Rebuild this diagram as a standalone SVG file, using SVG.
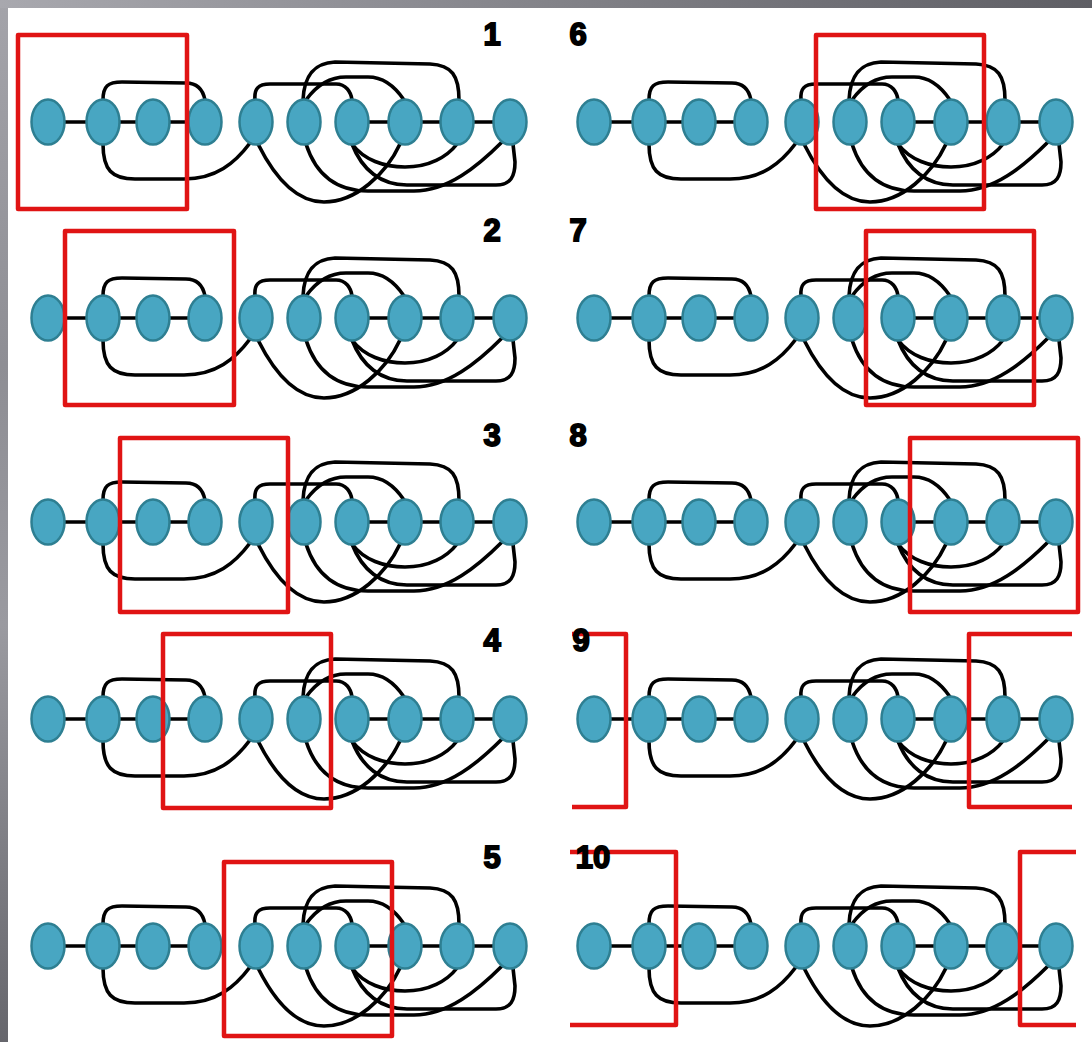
<svg xmlns="http://www.w3.org/2000/svg" width="1092" height="1042" viewBox="0 0 1092 1042">
<defs>
<linearGradient id="frameV" x1="0" y1="0" x2="0" y2="1">
<stop offset="0" stop-color="#a4a4aa"/>
<stop offset="0.35" stop-color="#8e8e94"/>
<stop offset="0.6" stop-color="#9a9aa0"/>
<stop offset="1" stop-color="#66666c"/>
</linearGradient>
<linearGradient id="frameH" x1="0" y1="0" x2="1" y2="0">
<stop offset="0" stop-color="#a8a8ae"/>
<stop offset="1" stop-color="#5e5e64"/>
</linearGradient>
<style>
.node ellipse{fill:#48a6c2;stroke:#2e7f92;stroke-width:2.5}
.edge{fill:none;stroke:#000;stroke-width:3.6;stroke-linecap:round;stroke-linejoin:round}
.win{fill:none;stroke:#e01414;stroke-width:4.5;stroke-linejoin:round}
.lbl{font-family:"Liberation Sans",Arial,sans-serif;font-weight:bold;font-size:31px;fill:#000;stroke:#000;stroke-width:1.8;text-anchor:middle}
</style>
</defs>
<rect x="0" y="0" width="1092" height="1042" fill="url(#frameV)"/>
<rect x="0" y="0" width="1092" height="8" fill="url(#frameH)"/>
<rect x="8" y="8" width="1084" height="1034" fill="#fff"/>

<g id="panel1">
<g transform="translate(0,0)">
<g id="p1-connectors">
<path class="edge" d="M48,122H103M103,122H153M153,122H205M352,122H405M405,122H457M457,122H510"/>
<path class="edge" d="M103,100C103,86 108,82 122,82L186,83C197,83 203,90 205,100"/>
<path class="edge" d="M255,100C254,89 258,84 270,84L336,84C346,84 351,92 352,100"/>
<path class="edge" d="M303,100C304,78 312,63 335,62L430,64C452,65 459,76 459,100"/>
<path class="edge" d="M306,100C316,86 330,77 346,77L368,77C384,77 396,88 404,100"/>
<path class="edge" d="M103,144C103,170 112,179 135,179L184,179C216,179 235,163 250,143"/>
<path class="edge" d="M258,144C276,180 298,202 324,202C356,202 386,174 400,144"/>
<path class="edge" d="M306,144C316,175 337,191 368,191L414,191C448,191 478,166 502,142"/>
<path class="edge" d="M352,144C362,170 381,185 407,185L496,185C511,185 515,176 515,162L513,144"/>
<path class="edge" d="M352,144C364,160 384,167 405,167C429,167 447,157 457,144"/>
</g>
<g id="p1-n1" class="node"><ellipse cx="48" cy="122" rx="16.5" ry="22.5"/></g>
<g id="p1-n2" class="node"><ellipse cx="103" cy="122" rx="16.5" ry="22.5"/></g>
<g id="p1-n3" class="node"><ellipse cx="153" cy="122" rx="16.5" ry="22.5"/></g>
<g id="p1-n4" class="node"><ellipse cx="205" cy="122" rx="16.5" ry="22.5"/></g>
<g id="p1-n5" class="node"><ellipse cx="256" cy="122" rx="16.5" ry="22.5"/></g>
<g id="p1-n6" class="node"><ellipse cx="304" cy="122" rx="16.5" ry="22.5"/></g>
<g id="p1-n7" class="node"><ellipse cx="352" cy="122" rx="16.5" ry="22.5"/></g>
<g id="p1-n8" class="node"><ellipse cx="405" cy="122" rx="16.5" ry="22.5"/></g>
<g id="p1-n9" class="node"><ellipse cx="457" cy="122" rx="16.5" ry="22.5"/></g>
<g id="p1-n10" class="node"><ellipse cx="510" cy="122" rx="16.5" ry="22.5"/></g>
</g>
<rect class="win" x="18" y="35" width="169" height="174"/>
<text class="lbl" x="492" y="45">1</text>
</g>

<g id="panel2">
<g transform="translate(0,196)">
<g id="p2-connectors">
<path class="edge" d="M48,122H103M103,122H153M153,122H205M352,122H405M405,122H457M457,122H510"/>
<path class="edge" d="M103,100C103,86 108,82 122,82L186,83C197,83 203,90 205,100"/>
<path class="edge" d="M255,100C254,89 258,84 270,84L336,84C346,84 351,92 352,100"/>
<path class="edge" d="M303,100C304,78 312,63 335,62L430,64C452,65 459,76 459,100"/>
<path class="edge" d="M306,100C316,86 330,77 346,77L368,77C384,77 396,88 404,100"/>
<path class="edge" d="M103,144C103,170 112,179 135,179L184,179C216,179 235,163 250,143"/>
<path class="edge" d="M258,144C276,180 298,202 324,202C356,202 386,174 400,144"/>
<path class="edge" d="M306,144C316,175 337,191 368,191L414,191C448,191 478,166 502,142"/>
<path class="edge" d="M352,144C362,170 381,185 407,185L496,185C511,185 515,176 515,162L513,144"/>
<path class="edge" d="M352,144C364,160 384,167 405,167C429,167 447,157 457,144"/>
</g>
<g id="p2-n1" class="node"><ellipse cx="48" cy="122" rx="16.5" ry="22.5"/></g>
<g id="p2-n2" class="node"><ellipse cx="103" cy="122" rx="16.5" ry="22.5"/></g>
<g id="p2-n3" class="node"><ellipse cx="153" cy="122" rx="16.5" ry="22.5"/></g>
<g id="p2-n4" class="node"><ellipse cx="205" cy="122" rx="16.5" ry="22.5"/></g>
<g id="p2-n5" class="node"><ellipse cx="256" cy="122" rx="16.5" ry="22.5"/></g>
<g id="p2-n6" class="node"><ellipse cx="304" cy="122" rx="16.5" ry="22.5"/></g>
<g id="p2-n7" class="node"><ellipse cx="352" cy="122" rx="16.5" ry="22.5"/></g>
<g id="p2-n8" class="node"><ellipse cx="405" cy="122" rx="16.5" ry="22.5"/></g>
<g id="p2-n9" class="node"><ellipse cx="457" cy="122" rx="16.5" ry="22.5"/></g>
<g id="p2-n10" class="node"><ellipse cx="510" cy="122" rx="16.5" ry="22.5"/></g>
</g>
<rect class="win" x="65" y="231" width="169" height="174"/>
<text class="lbl" x="492" y="241">2</text>
</g>

<g id="panel3">
<g transform="translate(0,400)">
<g id="p3-connectors">
<path class="edge" d="M48,122H103M103,122H153M153,122H205M352,122H405M405,122H457M457,122H510"/>
<path class="edge" d="M103,100C103,86 108,82 122,82L186,83C197,83 203,90 205,100"/>
<path class="edge" d="M255,100C254,89 258,84 270,84L336,84C346,84 351,92 352,100"/>
<path class="edge" d="M303,100C304,78 312,63 335,62L430,64C452,65 459,76 459,100"/>
<path class="edge" d="M306,100C316,86 330,77 346,77L368,77C384,77 396,88 404,100"/>
<path class="edge" d="M103,144C103,170 112,179 135,179L184,179C216,179 235,163 250,143"/>
<path class="edge" d="M258,144C276,180 298,202 324,202C356,202 386,174 400,144"/>
<path class="edge" d="M306,144C316,175 337,191 368,191L414,191C448,191 478,166 502,142"/>
<path class="edge" d="M352,144C362,170 381,185 407,185L496,185C511,185 515,176 515,162L513,144"/>
<path class="edge" d="M352,144C364,160 384,167 405,167C429,167 447,157 457,144"/>
</g>
<g id="p3-n1" class="node"><ellipse cx="48" cy="122" rx="16.5" ry="22.5"/></g>
<g id="p3-n2" class="node"><ellipse cx="103" cy="122" rx="16.5" ry="22.5"/></g>
<g id="p3-n3" class="node"><ellipse cx="153" cy="122" rx="16.5" ry="22.5"/></g>
<g id="p3-n4" class="node"><ellipse cx="205" cy="122" rx="16.5" ry="22.5"/></g>
<g id="p3-n5" class="node"><ellipse cx="256" cy="122" rx="16.5" ry="22.5"/></g>
<g id="p3-n6" class="node"><ellipse cx="304" cy="122" rx="16.5" ry="22.5"/></g>
<g id="p3-n7" class="node"><ellipse cx="352" cy="122" rx="16.5" ry="22.5"/></g>
<g id="p3-n8" class="node"><ellipse cx="405" cy="122" rx="16.5" ry="22.5"/></g>
<g id="p3-n9" class="node"><ellipse cx="457" cy="122" rx="16.5" ry="22.5"/></g>
<g id="p3-n10" class="node"><ellipse cx="510" cy="122" rx="16.5" ry="22.5"/></g>
</g>
<rect class="win" x="120" y="438" width="168" height="174"/>
<text class="lbl" x="492" y="446">3</text>
</g>

<g id="panel4">
<g transform="translate(0,597)">
<g id="p4-connectors">
<path class="edge" d="M48,122H103M103,122H153M153,122H205M352,122H405M405,122H457M457,122H510"/>
<path class="edge" d="M103,100C103,86 108,82 122,82L186,83C197,83 203,90 205,100"/>
<path class="edge" d="M255,100C254,89 258,84 270,84L336,84C346,84 351,92 352,100"/>
<path class="edge" d="M303,100C304,78 312,63 335,62L430,64C452,65 459,76 459,100"/>
<path class="edge" d="M306,100C316,86 330,77 346,77L368,77C384,77 396,88 404,100"/>
<path class="edge" d="M103,144C103,170 112,179 135,179L184,179C216,179 235,163 250,143"/>
<path class="edge" d="M258,144C276,180 298,202 324,202C356,202 386,174 400,144"/>
<path class="edge" d="M306,144C316,175 337,191 368,191L414,191C448,191 478,166 502,142"/>
<path class="edge" d="M352,144C362,170 381,185 407,185L496,185C511,185 515,176 515,162L513,144"/>
<path class="edge" d="M352,144C364,160 384,167 405,167C429,167 447,157 457,144"/>
</g>
<g id="p4-n1" class="node"><ellipse cx="48" cy="122" rx="16.5" ry="22.5"/></g>
<g id="p4-n2" class="node"><ellipse cx="103" cy="122" rx="16.5" ry="22.5"/></g>
<g id="p4-n3" class="node"><ellipse cx="153" cy="122" rx="16.5" ry="22.5"/></g>
<g id="p4-n4" class="node"><ellipse cx="205" cy="122" rx="16.5" ry="22.5"/></g>
<g id="p4-n5" class="node"><ellipse cx="256" cy="122" rx="16.5" ry="22.5"/></g>
<g id="p4-n6" class="node"><ellipse cx="304" cy="122" rx="16.5" ry="22.5"/></g>
<g id="p4-n7" class="node"><ellipse cx="352" cy="122" rx="16.5" ry="22.5"/></g>
<g id="p4-n8" class="node"><ellipse cx="405" cy="122" rx="16.5" ry="22.5"/></g>
<g id="p4-n9" class="node"><ellipse cx="457" cy="122" rx="16.5" ry="22.5"/></g>
<g id="p4-n10" class="node"><ellipse cx="510" cy="122" rx="16.5" ry="22.5"/></g>
</g>
<rect class="win" x="163" y="634" width="168" height="174"/>
<text class="lbl" x="492" y="651">4</text>
</g>

<g id="panel5">
<g transform="translate(0,824)">
<g id="p5-connectors">
<path class="edge" d="M48,122H103M103,122H153M153,122H205M352,122H405M405,122H457M457,122H510"/>
<path class="edge" d="M103,100C103,86 108,82 122,82L186,83C197,83 203,90 205,100"/>
<path class="edge" d="M255,100C254,89 258,84 270,84L336,84C346,84 351,92 352,100"/>
<path class="edge" d="M303,100C304,78 312,63 335,62L430,64C452,65 459,76 459,100"/>
<path class="edge" d="M306,100C316,86 330,77 346,77L368,77C384,77 396,88 404,100"/>
<path class="edge" d="M103,144C103,170 112,179 135,179L184,179C216,179 235,163 250,143"/>
<path class="edge" d="M258,144C276,180 298,202 324,202C356,202 386,174 400,144"/>
<path class="edge" d="M306,144C316,175 337,191 368,191L414,191C448,191 478,166 502,142"/>
<path class="edge" d="M352,144C362,170 381,185 407,185L496,185C511,185 515,176 515,162L513,144"/>
<path class="edge" d="M352,144C364,160 384,167 405,167C429,167 447,157 457,144"/>
</g>
<g id="p5-n1" class="node"><ellipse cx="48" cy="122" rx="16.5" ry="22.5"/></g>
<g id="p5-n2" class="node"><ellipse cx="103" cy="122" rx="16.5" ry="22.5"/></g>
<g id="p5-n3" class="node"><ellipse cx="153" cy="122" rx="16.5" ry="22.5"/></g>
<g id="p5-n4" class="node"><ellipse cx="205" cy="122" rx="16.5" ry="22.5"/></g>
<g id="p5-n5" class="node"><ellipse cx="256" cy="122" rx="16.5" ry="22.5"/></g>
<g id="p5-n6" class="node"><ellipse cx="304" cy="122" rx="16.5" ry="22.5"/></g>
<g id="p5-n7" class="node"><ellipse cx="352" cy="122" rx="16.5" ry="22.5"/></g>
<g id="p5-n8" class="node"><ellipse cx="405" cy="122" rx="16.5" ry="22.5"/></g>
<g id="p5-n9" class="node"><ellipse cx="457" cy="122" rx="16.5" ry="22.5"/></g>
<g id="p5-n10" class="node"><ellipse cx="510" cy="122" rx="16.5" ry="22.5"/></g>
</g>
<rect class="win" x="224" y="862" width="168" height="174"/>
<text class="lbl" x="492" y="868">5</text>
</g>

<g id="panel6">
<g transform="translate(546,0)">
<g id="p6-connectors">
<path class="edge" d="M48,122H103M103,122H153M153,122H205M352,122H405M405,122H457M457,122H510"/>
<path class="edge" d="M103,100C103,86 108,82 122,82L186,83C197,83 203,90 205,100"/>
<path class="edge" d="M255,100C254,89 258,84 270,84L336,84C346,84 351,92 352,100"/>
<path class="edge" d="M303,100C304,78 312,63 335,62L430,64C452,65 459,76 459,100"/>
<path class="edge" d="M306,100C316,86 330,77 346,77L368,77C384,77 396,88 404,100"/>
<path class="edge" d="M103,144C103,170 112,179 135,179L184,179C216,179 235,163 250,143"/>
<path class="edge" d="M258,144C276,180 298,202 324,202C356,202 386,174 400,144"/>
<path class="edge" d="M306,144C316,175 337,191 368,191L414,191C448,191 478,166 502,142"/>
<path class="edge" d="M352,144C362,170 381,185 407,185L496,185C511,185 515,176 515,162L513,144"/>
<path class="edge" d="M352,144C364,160 384,167 405,167C429,167 447,157 457,144"/>
</g>
<g id="p6-n1" class="node"><ellipse cx="48" cy="122" rx="16.5" ry="22.5"/></g>
<g id="p6-n2" class="node"><ellipse cx="103" cy="122" rx="16.5" ry="22.5"/></g>
<g id="p6-n3" class="node"><ellipse cx="153" cy="122" rx="16.5" ry="22.5"/></g>
<g id="p6-n4" class="node"><ellipse cx="205" cy="122" rx="16.5" ry="22.5"/></g>
<g id="p6-n5" class="node"><ellipse cx="256" cy="122" rx="16.5" ry="22.5"/></g>
<g id="p6-n6" class="node"><ellipse cx="304" cy="122" rx="16.5" ry="22.5"/></g>
<g id="p6-n7" class="node"><ellipse cx="352" cy="122" rx="16.5" ry="22.5"/></g>
<g id="p6-n8" class="node"><ellipse cx="405" cy="122" rx="16.5" ry="22.5"/></g>
<g id="p6-n9" class="node"><ellipse cx="457" cy="122" rx="16.5" ry="22.5"/></g>
<g id="p6-n10" class="node"><ellipse cx="510" cy="122" rx="16.5" ry="22.5"/></g>
</g>
<rect class="win" x="816" y="35" width="168" height="174"/>
<text class="lbl" x="578" y="45">6</text>
</g>

<g id="panel7">
<g transform="translate(546,196)">
<g id="p7-connectors">
<path class="edge" d="M48,122H103M103,122H153M153,122H205M352,122H405M405,122H457M457,122H510"/>
<path class="edge" d="M103,100C103,86 108,82 122,82L186,83C197,83 203,90 205,100"/>
<path class="edge" d="M255,100C254,89 258,84 270,84L336,84C346,84 351,92 352,100"/>
<path class="edge" d="M303,100C304,78 312,63 335,62L430,64C452,65 459,76 459,100"/>
<path class="edge" d="M306,100C316,86 330,77 346,77L368,77C384,77 396,88 404,100"/>
<path class="edge" d="M103,144C103,170 112,179 135,179L184,179C216,179 235,163 250,143"/>
<path class="edge" d="M258,144C276,180 298,202 324,202C356,202 386,174 400,144"/>
<path class="edge" d="M306,144C316,175 337,191 368,191L414,191C448,191 478,166 502,142"/>
<path class="edge" d="M352,144C362,170 381,185 407,185L496,185C511,185 515,176 515,162L513,144"/>
<path class="edge" d="M352,144C364,160 384,167 405,167C429,167 447,157 457,144"/>
</g>
<g id="p7-n1" class="node"><ellipse cx="48" cy="122" rx="16.5" ry="22.5"/></g>
<g id="p7-n2" class="node"><ellipse cx="103" cy="122" rx="16.5" ry="22.5"/></g>
<g id="p7-n3" class="node"><ellipse cx="153" cy="122" rx="16.5" ry="22.5"/></g>
<g id="p7-n4" class="node"><ellipse cx="205" cy="122" rx="16.5" ry="22.5"/></g>
<g id="p7-n5" class="node"><ellipse cx="256" cy="122" rx="16.5" ry="22.5"/></g>
<g id="p7-n6" class="node"><ellipse cx="304" cy="122" rx="16.5" ry="22.5"/></g>
<g id="p7-n7" class="node"><ellipse cx="352" cy="122" rx="16.5" ry="22.5"/></g>
<g id="p7-n8" class="node"><ellipse cx="405" cy="122" rx="16.5" ry="22.5"/></g>
<g id="p7-n9" class="node"><ellipse cx="457" cy="122" rx="16.5" ry="22.5"/></g>
<g id="p7-n10" class="node"><ellipse cx="510" cy="122" rx="16.5" ry="22.5"/></g>
</g>
<rect class="win" x="866" y="231" width="168" height="174"/>
<text class="lbl" x="578" y="241">7</text>
</g>

<g id="panel8">
<g transform="translate(546,400)">
<g id="p8-connectors">
<path class="edge" d="M48,122H103M103,122H153M153,122H205M352,122H405M405,122H457M457,122H510"/>
<path class="edge" d="M103,100C103,86 108,82 122,82L186,83C197,83 203,90 205,100"/>
<path class="edge" d="M255,100C254,89 258,84 270,84L336,84C346,84 351,92 352,100"/>
<path class="edge" d="M303,100C304,78 312,63 335,62L430,64C452,65 459,76 459,100"/>
<path class="edge" d="M306,100C316,86 330,77 346,77L368,77C384,77 396,88 404,100"/>
<path class="edge" d="M103,144C103,170 112,179 135,179L184,179C216,179 235,163 250,143"/>
<path class="edge" d="M258,144C276,180 298,202 324,202C356,202 386,174 400,144"/>
<path class="edge" d="M306,144C316,175 337,191 368,191L414,191C448,191 478,166 502,142"/>
<path class="edge" d="M352,144C362,170 381,185 407,185L496,185C511,185 515,176 515,162L513,144"/>
<path class="edge" d="M352,144C364,160 384,167 405,167C429,167 447,157 457,144"/>
</g>
<g id="p8-n1" class="node"><ellipse cx="48" cy="122" rx="16.5" ry="22.5"/></g>
<g id="p8-n2" class="node"><ellipse cx="103" cy="122" rx="16.5" ry="22.5"/></g>
<g id="p8-n3" class="node"><ellipse cx="153" cy="122" rx="16.5" ry="22.5"/></g>
<g id="p8-n4" class="node"><ellipse cx="205" cy="122" rx="16.5" ry="22.5"/></g>
<g id="p8-n5" class="node"><ellipse cx="256" cy="122" rx="16.5" ry="22.5"/></g>
<g id="p8-n6" class="node"><ellipse cx="304" cy="122" rx="16.5" ry="22.5"/></g>
<g id="p8-n7" class="node"><ellipse cx="352" cy="122" rx="16.5" ry="22.5"/></g>
<g id="p8-n8" class="node"><ellipse cx="405" cy="122" rx="16.5" ry="22.5"/></g>
<g id="p8-n9" class="node"><ellipse cx="457" cy="122" rx="16.5" ry="22.5"/></g>
<g id="p8-n10" class="node"><ellipse cx="510" cy="122" rx="16.5" ry="22.5"/></g>
</g>
<rect class="win" x="910" y="438" width="168" height="174"/>
<text class="lbl" x="578" y="446">8</text>
</g>

<g id="panel9">
<g transform="translate(546,597)">
<g id="p9-connectors">
<path class="edge" d="M48,122H103M103,122H153M153,122H205M352,122H405M405,122H457M457,122H510"/>
<path class="edge" d="M103,100C103,86 108,82 122,82L186,83C197,83 203,90 205,100"/>
<path class="edge" d="M255,100C254,89 258,84 270,84L336,84C346,84 351,92 352,100"/>
<path class="edge" d="M303,100C304,78 312,63 335,62L430,64C452,65 459,76 459,100"/>
<path class="edge" d="M306,100C316,86 330,77 346,77L368,77C384,77 396,88 404,100"/>
<path class="edge" d="M103,144C103,170 112,179 135,179L184,179C216,179 235,163 250,143"/>
<path class="edge" d="M258,144C276,180 298,202 324,202C356,202 386,174 400,144"/>
<path class="edge" d="M306,144C316,175 337,191 368,191L414,191C448,191 478,166 502,142"/>
<path class="edge" d="M352,144C362,170 381,185 407,185L496,185C511,185 515,176 515,162L513,144"/>
<path class="edge" d="M352,144C364,160 384,167 405,167C429,167 447,157 457,144"/>
</g>
<g id="p9-n1" class="node"><ellipse cx="48" cy="122" rx="16.5" ry="22.5"/></g>
<g id="p9-n2" class="node"><ellipse cx="103" cy="122" rx="16.5" ry="22.5"/></g>
<g id="p9-n3" class="node"><ellipse cx="153" cy="122" rx="16.5" ry="22.5"/></g>
<g id="p9-n4" class="node"><ellipse cx="205" cy="122" rx="16.5" ry="22.5"/></g>
<g id="p9-n5" class="node"><ellipse cx="256" cy="122" rx="16.5" ry="22.5"/></g>
<g id="p9-n6" class="node"><ellipse cx="304" cy="122" rx="16.5" ry="22.5"/></g>
<g id="p9-n7" class="node"><ellipse cx="352" cy="122" rx="16.5" ry="22.5"/></g>
<g id="p9-n8" class="node"><ellipse cx="405" cy="122" rx="16.5" ry="22.5"/></g>
<g id="p9-n9" class="node"><ellipse cx="457" cy="122" rx="16.5" ry="22.5"/></g>
<g id="p9-n10" class="node"><ellipse cx="510" cy="122" rx="16.5" ry="22.5"/></g>
</g>
<path class="win" d="M572,634H626V807H572M1072,634H969V807H1072"/>
<text class="lbl" x="581" y="651">9</text>
</g>

<g id="panel10">
<g transform="translate(546,824)">
<g id="p10-connectors">
<path class="edge" d="M48,122H103M103,122H153M153,122H205M352,122H405M405,122H457M457,122H510"/>
<path class="edge" d="M103,100C103,86 108,82 122,82L186,83C197,83 203,90 205,100"/>
<path class="edge" d="M255,100C254,89 258,84 270,84L336,84C346,84 351,92 352,100"/>
<path class="edge" d="M303,100C304,78 312,63 335,62L430,64C452,65 459,76 459,100"/>
<path class="edge" d="M306,100C316,86 330,77 346,77L368,77C384,77 396,88 404,100"/>
<path class="edge" d="M103,144C103,170 112,179 135,179L184,179C216,179 235,163 250,143"/>
<path class="edge" d="M258,144C276,180 298,202 324,202C356,202 386,174 400,144"/>
<path class="edge" d="M306,144C316,175 337,191 368,191L414,191C448,191 478,166 502,142"/>
<path class="edge" d="M352,144C362,170 381,185 407,185L496,185C511,185 515,176 515,162L513,144"/>
<path class="edge" d="M352,144C364,160 384,167 405,167C429,167 447,157 457,144"/>
</g>
<g id="p10-n1" class="node"><ellipse cx="48" cy="122" rx="16.5" ry="22.5"/></g>
<g id="p10-n2" class="node"><ellipse cx="103" cy="122" rx="16.5" ry="22.5"/></g>
<g id="p10-n3" class="node"><ellipse cx="153" cy="122" rx="16.5" ry="22.5"/></g>
<g id="p10-n4" class="node"><ellipse cx="205" cy="122" rx="16.5" ry="22.5"/></g>
<g id="p10-n5" class="node"><ellipse cx="256" cy="122" rx="16.5" ry="22.5"/></g>
<g id="p10-n6" class="node"><ellipse cx="304" cy="122" rx="16.5" ry="22.5"/></g>
<g id="p10-n7" class="node"><ellipse cx="352" cy="122" rx="16.5" ry="22.5"/></g>
<g id="p10-n8" class="node"><ellipse cx="405" cy="122" rx="16.5" ry="22.5"/></g>
<g id="p10-n9" class="node"><ellipse cx="457" cy="122" rx="16.5" ry="22.5"/></g>
<g id="p10-n10" class="node"><ellipse cx="510" cy="122" rx="16.5" ry="22.5"/></g>
</g>
<path class="win" d="M570,852H676V1025H570M1076,852H1020V1025H1076"/>
<text class="lbl" x="593" y="868">10</text>
</g>
</svg>
